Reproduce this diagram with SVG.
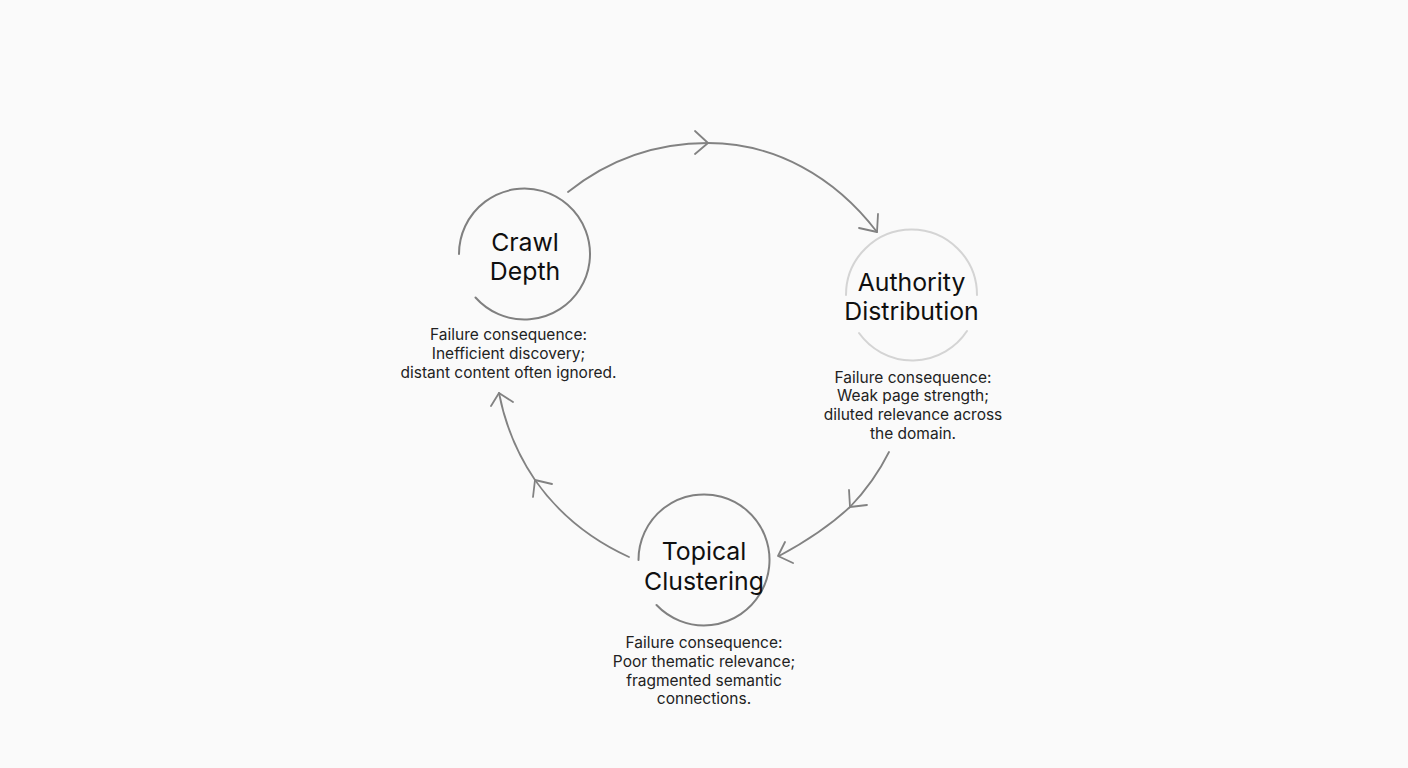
<svg xmlns="http://www.w3.org/2000/svg" width="1408" height="768" viewBox="0 0 1408 768">
<style>
text{font-family:Inter,"Liberation Sans",sans-serif;text-anchor:middle;fill:#141414}
.t{font-size:24.8px;fill:#0f0f0f}
.b{font-size:15.5px;fill:#222}
.r{fill:none;stroke:#808080;stroke-width:2;stroke-linecap:round}
.c{fill:none;stroke:#828282;stroke-width:1.8;stroke-linecap:round;stroke-linejoin:round}
</style>
<rect width="1408" height="768" fill="#fafafa"/>
<g id="connectors">
<path class="c" d="M568 192C608 160 655 143 708 143C775 143 835 177 877 232"/>
<path class="c" d="M695 131L708 143L695 154M859 228L877 232L878 214"/>
<path class="c" d="M889 452Q874 482 850 507Q822 533 779 556"/>
<path class="c" d="M849 490L850 507L867 505M785 542L778 556L793 563"/>
<path class="c" d="M629 557Q570 530 535 480Q508 440 499 393"/>
<path class="c" d="M552 484L535 480L533 497M491 406L499 393L513 402"/>
</g>
<g id="node-crawl-depth">
<path class="r" d="M459 254A65.500 65.500 0 1 1 475.500 297.500"/>
<text class="t" x="525" y="250.500">Crawl</text>
<text class="t" x="525" y="280">Depth</text>
<text class="b" x="508.500" y="339.500">Failure consequence:</text>
<text class="b" x="508.500" y="358.500">Inefficient discovery;</text>
<text class="b" x="508.500" y="377.500">distant content often ignored.</text>
</g>
<g id="node-authority-distribution">
<path class="r" style="stroke:#d4d4d4" d="M846 295A65.500 65.500 0 0 1 977 295"/>
<path class="r" style="stroke:#d4d4d4" d="M859 333A65.500 65.500 0 0 0 967 331"/>
<text class="t" x="911.500" y="290.500">Authority</text>
<text class="t" x="911.500" y="320">Distribution</text>
<text class="b" x="913" y="382.500">Failure consequence:</text>
<text class="b" x="913" y="401">Weak page strength;</text>
<text class="b" x="913" y="419.500">diluted relevance across</text>
<text class="b" x="913" y="438.500">the domain.</text>
</g>
<g id="node-topical-clustering">
<path class="r" d="M638.500 560A65.500 65.500 0 1 1 656.500 605"/>
<text class="t" x="704" y="560">Topical</text>
<text class="t" x="704" y="589.500">Clustering</text>
<text class="b" x="704" y="648">Failure consequence:</text>
<text class="b" x="704" y="666.500">Poor thematic relevance;</text>
<text class="b" x="704" y="685.500">fragmented semantic</text>
<text class="b" x="704" y="704">connections.</text>
</g>
</svg>
